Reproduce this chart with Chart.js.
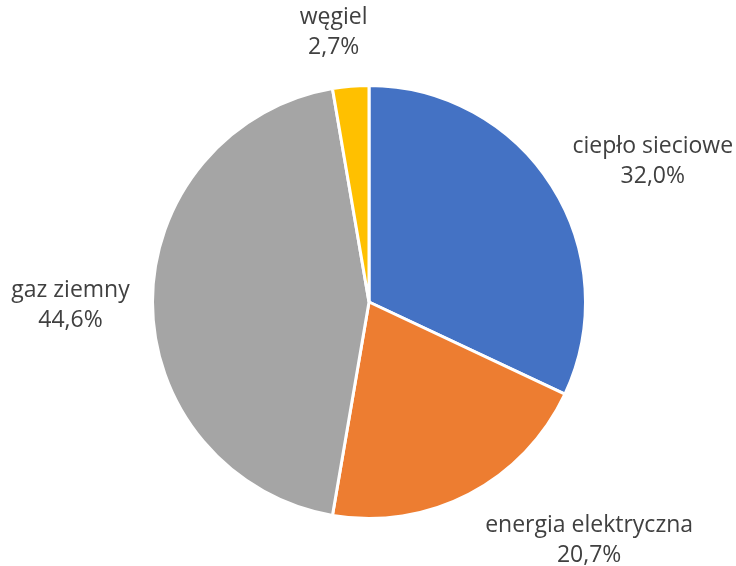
<!DOCTYPE html>
<html><head><meta charset="utf-8">
<script src="https://cdn.jsdelivr.net/npm/chart.js@4"></script>
<style>html,body{margin:0;padding:0;background:#fff}#wrap{width:736px;height:566px}</style>
</head><body><div id="wrap"><canvas id="c"></canvas></div>
<script>
const categories = ["ciepło sieciowe", "energia elektryczna", "gaz ziemny", "węgiel"];
const values = [32.0, 20.7, 44.6, 2.7];
const valueLabels = ["32,0%", "20,7%", "44,6%", "2,7%"];
const colors = ["#4472C4", "#ED7D31", "#A5A5A5", "#FFC000"];
// label offsets from the arc edge point (style)
const labelOffsets = [[101,-25],[120,46],[-82,3],[-17,-54]];

const labelPlugin = {
  id: 'pieLabels',
  afterDatasetsDraw(chart) {
    const ctx = chart.ctx;
    const meta = chart.getDatasetMeta(0);
    ctx.save();
    ctx.font = '23px "Open Sans"';
    ctx.fillStyle = '#404040';
    ctx.textAlign = 'center';
    ctx.textBaseline = 'middle';
    meta.data.forEach((arc, i) => {
      const mid = (arc.startAngle + arc.endAngle) / 2;
      const x = arc.x + Math.cos(mid) * arc.outerRadius + labelOffsets[i][0];
      const y = arc.y + Math.sin(mid) * arc.outerRadius + labelOffsets[i][1];
      ctx.fillText(categories[i], x, y - 15);
      ctx.fillText(valueLabels[i], x, y + 15);
    });
    ctx.restore();
  }
};

new Chart(document.getElementById('c'), {
  type: 'pie',
  data: {
    labels: categories,
    datasets: [{ data: values, backgroundColor: colors, borderColor: '#ffffff', borderWidth: 3 }]
  },
  options: {
    responsive: true,
    maintainAspectRatio: false,
    animation: false,
    layout: { padding: { top: 84, bottom: 46, left: 151, right: 149 } },
    plugins: { legend: { display: false }, tooltip: { enabled: false } }
  },
  plugins: [labelPlugin]
});
</script></body></html>
